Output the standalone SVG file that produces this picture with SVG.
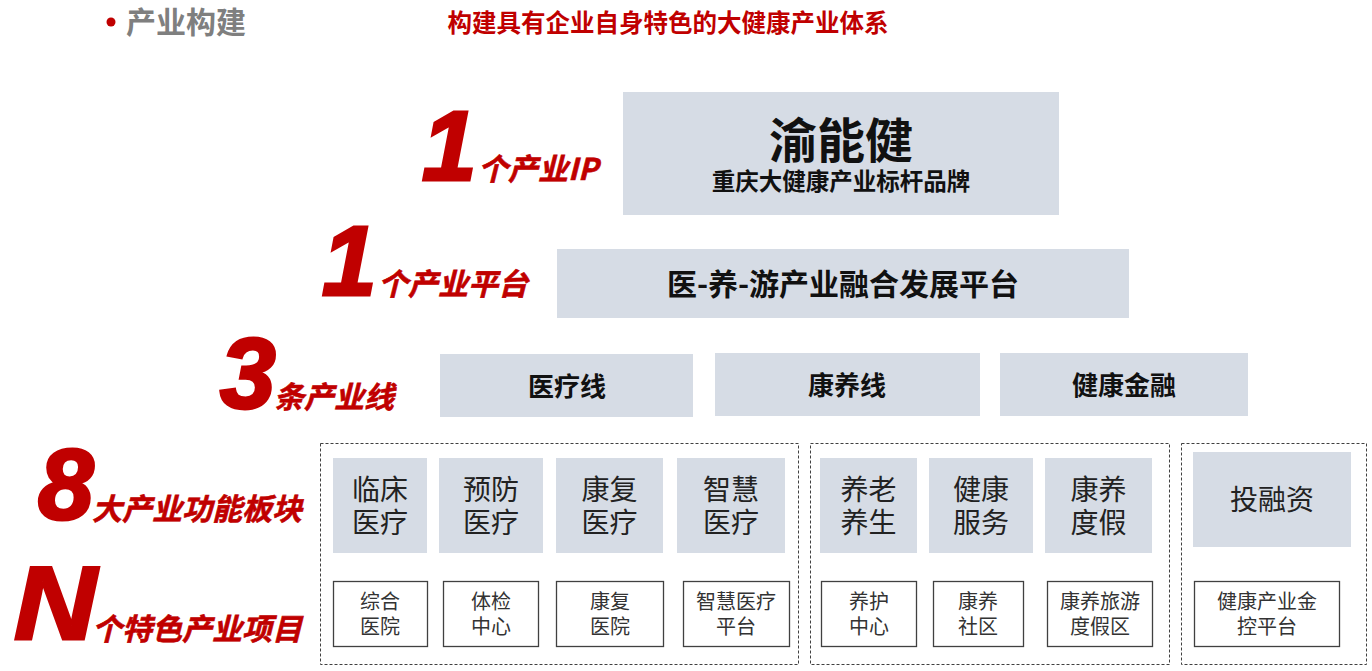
<svg xmlns="http://www.w3.org/2000/svg" width="1372" height="671" viewBox="0 0 1372 671">
<style>
text{font-family:"Liberation Sans","Noto Sans CJK SC",sans-serif}
.cjk{font-family:"Noto Sans CJK SC","Liberation Sans",sans-serif}
.g{fill:#d6dce5}
.dash{fill:none;stroke:#404040;stroke-width:1;stroke-dasharray:3 2}
.w{fill:#fff;stroke:#404040;stroke-width:1.3}
.big{font-family:"Liberation Sans",sans-serif;font-weight:bold;font-style:italic;fill:#c00000;stroke:#c00000;stroke-width:3}
.lab{font-family:"Noto Sans CJK SC",sans-serif;font-weight:bold;font-style:italic;fill:#c00000;font-size:30px;stroke:#c00000;stroke-width:0.6}
.h{font-family:"Noto Sans CJK SC",sans-serif;font-weight:bold;fill:#111;text-anchor:middle}
.m{font-family:"Noto Sans CJK SC",sans-serif;fill:#222;font-size:28px;text-anchor:middle}
.s{font-family:"Noto Sans CJK SC",sans-serif;fill:#333;font-size:20px;text-anchor:middle}
</style>
<g id="header">
<circle cx="111" cy="22" r="4.5" fill="#c00000"/>
<text x="126" y="33" class="cjk" font-size="30" font-weight="bold" fill="#7f7f7f">产业构建</text>
<text x="668" y="32" class="cjk" font-size="24.5" font-weight="bold" fill="#c00000" text-anchor="middle">构建具有企业自身特色的大健康产业体系</text>
</g>
<g id="labels">
<text x="422" y="180" class="big" font-size="98">1</text>
<text x="478" y="180" class="lab">个产业IP</text>
<text x="322" y="295" class="big" font-size="98">1</text>
<text x="378" y="295" class="lab">个产业平台</text>
<text x="220" y="408" class="big" font-size="100">3</text>
<text x="274" y="408" class="lab">条产业线</text>
<text x="38" y="519" class="big" font-size="100">8</text>
<text x="92" y="520" class="lab">大产业功能板块</text>
<text x="14" y="639" class="big" font-size="104" transform="translate(14 0) scale(1.1 1) translate(-14 0)">N</text>
<text x="92" y="640" class="lab">个特色产业项目</text>
</g>
<g id="ip">
<rect x="623" y="92" width="436" height="123" class="g"/>
<text x="841" y="158" class="h" font-size="48">渝能健</text>
<text x="841" y="190" class="h" font-size="23.5">重庆大健康产业标杆品牌</text>
</g>
<g id="platform">
<rect x="557" y="249" width="572" height="69" class="g"/>
<text x="843" y="295" class="h" font-size="30">医-养-游产业融合发展平台</text>
</g>
<g id="line1"><rect x="440" y="354" width="253" height="63" class="g"/><text x="567" y="396" class="h" font-size="26">医疗线</text></g>
<g id="line2"><rect x="715" y="353" width="265" height="63" class="g"/><text x="847" y="395" class="h" font-size="26">康养线</text></g>
<g id="line3"><rect x="1000" y="353" width="248" height="63" class="g"/><text x="1124" y="395" class="h" font-size="26">健康金融</text></g>
<g id="groups">
<rect x="320.5" y="443.5" width="478" height="221" class="dash"/>
<rect x="810.5" y="443.5" width="359" height="221" class="dash"/>
<rect x="1181.5" y="443.5" width="185" height="221" class="dash"/>
</g>
<g id="m1"><rect x="333" y="458" width="94" height="95" class="g"/><text x="380" y="500" class="m">临床</text><text x="380" y="533" class="m">医疗</text></g>
<g id="m2"><rect x="439" y="458" width="104" height="95" class="g"/><text x="491" y="500" class="m">预防</text><text x="491" y="533" class="m">医疗</text></g>
<g id="m3"><rect x="556" y="458" width="107" height="95" class="g"/><text x="609.5" y="500" class="m">康复</text><text x="609.5" y="533" class="m">医疗</text></g>
<g id="m4"><rect x="677" y="458" width="108" height="95" class="g"/><text x="731" y="500" class="m">智慧</text><text x="731" y="533" class="m">医疗</text></g>
<g id="m5"><rect x="820" y="458" width="97" height="95" class="g"/><text x="868.5" y="500" class="m">养老</text><text x="868.5" y="533" class="m">养生</text></g>
<g id="m6"><rect x="929" y="458" width="104" height="95" class="g"/><text x="981" y="500" class="m">健康</text><text x="981" y="533" class="m">服务</text></g>
<g id="m7"><rect x="1045" y="458" width="107" height="95" class="g"/><text x="1098.5" y="500" class="m">康养</text><text x="1098.5" y="533" class="m">度假</text></g>
<g id="m8"><rect x="1193" y="452" width="158" height="95" class="g"/><text x="1272" y="510" class="m" font-size="27">投融资</text></g>
<g id="p1"><rect x="333.5" y="581.5" width="94" height="65" class="w"/><text x="380" y="609" class="s">综合</text><text x="380" y="634" class="s">医院</text></g>
<g id="p2"><rect x="443.5" y="581.5" width="95" height="65" class="w"/><text x="491" y="609" class="s">体检</text><text x="491" y="634" class="s">中心</text></g>
<g id="p3"><rect x="556.5" y="581.5" width="107" height="65" class="w"/><text x="610" y="609" class="s">康复</text><text x="610" y="634" class="s">医院</text></g>
<g id="p4"><rect x="683.5" y="581.5" width="106" height="65" class="w"/><text x="736" y="609" class="s">智慧医疗</text><text x="736" y="634" class="s">平台</text></g>
<g id="p5"><rect x="821.5" y="581.5" width="95" height="65" class="w"/><text x="869" y="609" class="s">养护</text><text x="869" y="634" class="s">中心</text></g>
<g id="p6"><rect x="933.5" y="581.5" width="90" height="65" class="w"/><text x="978" y="609" class="s">康养</text><text x="978" y="634" class="s">社区</text></g>
<g id="p7"><rect x="1047.5" y="581.5" width="105" height="65" class="w"/><text x="1100" y="609" class="s">康养旅游</text><text x="1100" y="634" class="s">度假区</text></g>
<g id="p8"><rect x="1194.5" y="581.5" width="145" height="65" class="w"/><text x="1267" y="609" class="s">健康产业金</text><text x="1267" y="634" class="s">控平台</text></g>
</svg>
